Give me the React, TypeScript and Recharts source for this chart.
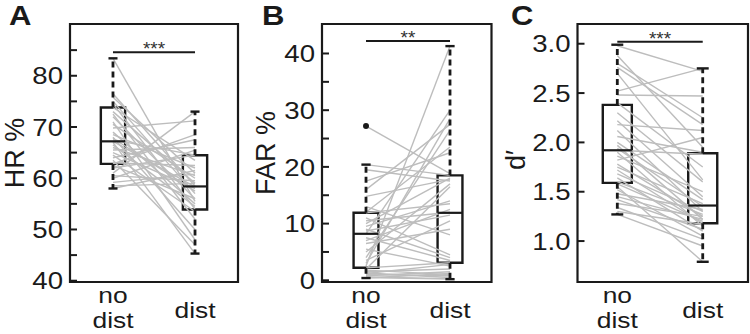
import React from 'react';
import {
  ComposedChart,
  Line,
  XAxis,
  YAxis,
  ReferenceArea,
  ReferenceLine,
  Scatter,
} from 'recharts';

// ---- data -----------------------------------------------------------------

const conditions = ['no dist', 'dist'];

// hit rate per participant (%)
const hrNoDist = [
  83.4, 76.5, 75.8, 75.0, 74.5, 73.8, 73.0, 72.5, 72.0, 71.0, 70.5, 69.8,
  69.0, 68.5, 68.0, 67.8, 67.5, 67.2, 67.0, 66.5, 66.0, 65.5, 65.0, 64.5,
  64.0, 63.5, 63.0, 62.8, 62.5, 62.0, 61.0, 60.5, 60.0, 59.2, 58.5, 58.0,
];
const hrDist = [
  55.5, 58.5, 61.0, 57.0, 54.0, 63.5, 59.0, 52.0, 56.0, 48.0, 60.0, 71.2,
  55.0, 62.0, 50.0, 57.5, 64.5, 58.3, 45.3, 54.5, 60.5, 66.0, 58.0, 53.5,
  67.5, 47.0, 62.5, 68.5, 56.0, 64.5, 73.0, 59.5, 65.5, 60.8, 59.0, 61.5,
];
// [lower whisker, Q1, median, Q3, upper whisker]
const hrBoxNoDist = [58.0, 62.8, 67.2, 73.8, 83.4];
const hrBoxDist = [45.3, 53.9, 58.4, 64.5, 73.0];
const hrTicks = [40, 45, 50, 55, 60, 65, 70, 75, 80, 85];

// false alarm rate per participant (%)
const farNoDist = [
  27.2, 20.4, 19.5, 17.5, 16.0, 14.8, 13.0, 12.0, 11.9, 11.0, 10.5, 10.0,
  9.5, 9.0, 8.7, 8.2, 7.5, 7.0, 6.5, 5.5, 5.0, 4.0, 3.5, 3.0,
  2.5, 2.2, 2.0, 1.8, 1.5, 1.3, 1.2, 1.0, 0.8, 0.6, 0.5, 0.4,
];
const farDist = [
  18.8, 18.5, 17.5, 22.5, 27.5, 17.8, 8.0, 23.5, 13.5, 4.5, 12.0, 18.0,
  14.0, 4.0, 11.5, 30.0, 3.5, 12.5, 9.0, 2.5, 17.0, 26.5, 10.5, 28.5,
  41.3, 3.1, 16.5, 1.0, 2.0, 0.5, 2.8, 0.8, 1.5, 0.3, 0.2, 1.2,
];
const farBoxNoDist = [0.4, 2.2, 8.2, 11.9, 20.4];
const farBoxDist = [0.2, 3.1, 11.9, 18.5, 41.3];
const farOutliersNoDist = [27.2];
const farTicks = [0, 5, 10, 15, 20, 25, 30, 35, 40];

// sensitivity d' per participant
const dpNoDist = [
  2.98, 2.88, 2.8, 2.76, 2.7, 2.52, 2.48, 2.4, 2.3, 2.22, 2.18, 2.12,
  2.06, 2.0, 1.97, 1.94, 1.92, 1.9, 1.86, 1.82, 1.78, 1.75, 1.72, 1.68,
  1.64, 1.6, 1.58, 1.55, 1.52, 1.48, 1.45, 1.42, 1.38, 1.34, 1.3, 1.27,
];
const dpDist = [
  2.72, 1.95, 2.25, 2.18, 1.62, 2.75, 2.47, 1.75, 1.6, 1.45, 2.12, 1.3,
  1.9, 1.42, 1.22, 1.35, 1.88, 1.15, 1.5, 2.05, 1.25, 1.38, 1.18, 1.3,
  1.1, 1.27, 1.2, 0.79, 1.05, 1.32, 1.22, 1.12, 1.25, 1.02, 1.17, 0.95,
];
const dpBoxNoDist = [1.27, 1.59, 1.92, 2.38, 2.99];
const dpBoxDist = [0.79, 1.18, 1.36, 1.89, 2.75];
const dpTicks = [1.0, 1.5, 2.0, 2.5, 3.0];

// paired comparison brackets
const sigLevels = [84.6, 42.2, 3.02];
const sigLabels = ['***', '**', '***'];

// ---- styling ----------------------------------------------------------------

const FONT = '"Liberation Sans", Arial, Helvetica, sans-serif';
const INK = '#1a1a1a';
const PAIR = '#bdbdbd';
const WIDEN = 1.15; // horizontal stretch of the label glyphs

// ---- ticks ------------------------------------------------------------------

function ValueTick(props: any) {
  const { x, y, payload, fmt } = props;
  const label = fmt(payload.value);
  return (
    <g>
      <line x1={x + 7} x2={x + 14} y1={y} y2={y} stroke={INK} strokeWidth={2} />
      {label !== '' && (
        <text
          transform={`translate(${x} ${y}) scale(${WIDEN} 1)`}
          x={0}
          y={0}
          dy="0.36em"
          textAnchor="end"
          fontFamily={FONT}
          fontSize={24}
          fill={INK}
        >
          {label}
        </text>
      )}
    </g>
  );
}

function CategoryTick(props: any) {
  const { x, y, payload } = props;
  const name = conditions[Math.round(payload.value)] ?? '';
  const words = name.split(' ');
  const tf = `translate(${x} ${y}) scale(1.2 1)`;
  if (words.length === 1) {
    return (
      <text transform={tf} x={0} y={36} textAnchor="middle" fontFamily={FONT} fontSize={22} fill={INK}>
        {name}
      </text>
    );
  }
  return (
    <g transform={tf}>
      <text x={0} y={21} textAnchor="middle" fontFamily={FONT} fontSize={22} fill={INK}>
        {words[0]}
      </text>
      <text x={0} y={46} textAnchor="middle" fontFamily={FONT} fontSize={22} fill={INK}>
        {words.slice(1).join(' ')}
      </text>
    </g>
  );
}

// ---- box plot pieces ----------------------------------------------------------

function boxElements(stats: number[], x: number, halfW: number, capW: number, key: string) {
  const [lo, q1, med, q3, hi] = stats;
  const common = { stroke: INK, ifOverflow: 'visible' as const };
  return [
    <ReferenceLine
      key={key + 'wu'}
      segment={[{ x, y: q3 }, { x, y: hi }]}
      {...common}
      strokeWidth={2.8}
      strokeDasharray="6 4"
    />,
    <ReferenceLine
      key={key + 'wl'}
      segment={[{ x, y: q1 }, { x, y: lo }]}
      {...common}
      strokeWidth={2.8}
      strokeDasharray="6 4"
    />,
    <ReferenceLine
      key={key + 'cu'}
      segment={[{ x: x - capW, y: hi }, { x: x + capW, y: hi }]}
      {...common}
      strokeWidth={2.4}
    />,
    <ReferenceLine
      key={key + 'cl'}
      segment={[{ x: x - capW, y: lo }, { x: x + capW, y: lo }]}
      {...common}
      strokeWidth={2.4}
    />,
    <ReferenceArea
      key={key + 'box'}
      x1={x - halfW}
      x2={x + halfW}
      y1={q1}
      y2={q3}
      fill="none"
      fillOpacity={0}
      stroke={INK}
      strokeWidth={2.4}
      ifOverflow="visible"
    />,
    <ReferenceLine
      key={key + 'med'}
      segment={[{ x: x - halfW, y: med }, { x: x + halfW, y: med }]}
      {...common}
      strokeWidth={2.2}
    />,
  ];
}

// ---- panel --------------------------------------------------------------------

type PanelProps = {
  left: number;
  letter: string;
  yLabel: string;
  noDist: number[];
  dist: number[];
  boxNoDist: number[];
  boxDist: number[];
  outliers?: number[];
  yDomain: [number, number];
  xDomain: [number, number];
  ticks: number[];
  fmt: (v: number) => string;
  sigY: number;
  sigText: string;
  yAxisWidth: number;
  rightMargin: number;
  halfW: number;
  capW: number;
  letterX: number;
  yLabelX: number;
  yLabelY: number;
};

function Panel(p: PanelProps) {
  const pairs = p.noDist.map((v, i) => [
    { x: 0, y: v },
    { x: 1, y: p.dist[i] },
  ]);
  const outlierData = (p.outliers ?? []).map((v) => ({ x: 0, y: v }));
  return (
    <div style={{ position: 'absolute', left: p.left, top: 0, width: 250, height: 334 }}>
      <ComposedChart
        width={250}
        height={334}
        margin={{ top: 24, right: p.rightMargin, bottom: 0, left: 0 }}
      >
        <XAxis
          type="number"
          dataKey="x"
          domain={p.xDomain}
          ticks={[0, 1]}
          interval={0}
          allowDataOverflow
          axisLine={false}
          tickLine={false}
          tickSize={0}
          tickMargin={0}
          height={52}
          tick={<CategoryTick />}
        />
        <YAxis
          type="number"
          dataKey="y"
          domain={p.yDomain}
          ticks={p.ticks}
          interval={0}
          allowDataOverflow
          axisLine={false}
          tickLine={false}
          tickSize={0}
          tickMargin={7}
          width={p.yAxisWidth}
          tick={<ValueTick fmt={p.fmt} />}
        />
        <ReferenceArea
          x1={p.xDomain[0]}
          x2={p.xDomain[1]}
          y1={p.yDomain[0]}
          y2={p.yDomain[1]}
          fill="none"
          fillOpacity={0}
          stroke={INK}
          strokeWidth={2.2}
          ifOverflow="visible"
        />
        {pairs.map((d, i) => (
          <Line
            key={'pair' + i}
            data={d}
            dataKey="y"
            type="linear"
            stroke={PAIR}
            strokeWidth={1.4}
            dot={false}
            activeDot={false}
            isAnimationActive={false}
          />
        ))}
        {boxElements(p.boxNoDist, 0, p.halfW, p.capW, 'nd')}
        {boxElements(p.boxDist, 1, p.halfW, p.capW, 'd')}
        {outlierData.length > 0 && (
          <Scatter
            data={outlierData}
            dataKey="y"
            isAnimationActive={false}
            shape={(s: any) => <circle cx={s.cx} cy={s.cy} r={3} fill={INK} />}
          />
        )}
        <ReferenceLine
          segment={[
            { x: 0, y: p.sigY },
            { x: 1, y: p.sigY },
          ]}
          stroke={INK}
          strokeWidth={2}
          ifOverflow="visible"
          label={{ value: p.sigText, position: 'top', offset: -3, fontSize: 19, fill: '#333', fontFamily: FONT }}
        />
      </ComposedChart>
      <div
        style={{
          position: 'absolute',
          left: p.letterX,
          top: 1,
          fontFamily: FONT,
          fontWeight: 'bold',
          fontSize: 27,
          lineHeight: 'normal',
          color: INK,
          transform: `scaleX(${WIDEN})`,
          transformOrigin: 'left top',
        }}
      >
        {p.letter}
      </div>
      <div
        style={{
          position: 'absolute',
          left: p.yLabelX,
          top: p.yLabelY,
          transform: 'translate(-50%, -50%) rotate(-90deg)',
          fontFamily: FONT,
          fontSize: 27,
          lineHeight: '24px',
          whiteSpace: 'nowrap',
          color: INK,
        }}
      >
        {p.yLabel}
      </div>
    </div>
  );
}

const tensOnly = (v: number) => (Math.round(v) % 10 === 0 ? String(v) : '');
const oneDecimal = (v: number) => v.toFixed(1);

export default function App() {
  return (
    <div style={{ position: 'absolute', left: 0, top: 0, width: 750, height: 334, background: '#fff' }}>
      <Panel
        left={0}
        letter="A"
        yLabel="HR %"
        noDist={hrNoDist}
        dist={hrDist}
        boxNoDist={hrBoxNoDist}
        boxDist={hrBoxDist}
        yDomain={[39.75, 90.1]}
        xDomain={[-0.524, 1.524]}
        ticks={hrTicks}
        fmt={tensOnly}
        sigY={sigLevels[0]}
        sigText={sigLabels[0]}
        yAxisWidth={70}
        rightMargin={12}
        halfW={0.148}
        capW={0.055}
        letterX={9}
        yLabelX={15}
        yLabelY={153}
      />
      <Panel
        left={250}
        letter="B"
        yLabel="FAR %"
        noDist={farNoDist}
        dist={farDist}
        boxNoDist={farBoxNoDist}
        boxDist={farBoxDist}
        outliers={farOutliersNoDist}
        yDomain={[-0.3, 45.2]}
        xDomain={[-0.524, 1.494]}
        ticks={farTicks}
        fmt={tensOnly}
        sigY={sigLevels[1]}
        sigText={sigLabels[1]}
        yAxisWidth={72}
        rightMargin={8.5}
        halfW={0.148}
        capW={0.055}
        letterX={12}
        yLabelX={16}
        yLabelY={153}
      />
      <Panel
        left={500}
        letter="C"
        yLabel="d′"
        noDist={dpNoDist}
        dist={dpDist}
        boxNoDist={dpBoxNoDist}
        boxDist={dpBoxDist}
        yDomain={[0.585, 3.2]}
        xDomain={[-0.466, 1.53]}
        ticks={dpTicks}
        fmt={oneDecimal}
        sigY={sigLevels[2]}
        sigText={sigLabels[2]}
        yAxisWidth={77.5}
        rightMargin={2}
        halfW={0.17}
        capW={0.07}
        letterX={11}
        yLabelX={16}
        yLabelY={160}
      />
    </div>
  );
}
